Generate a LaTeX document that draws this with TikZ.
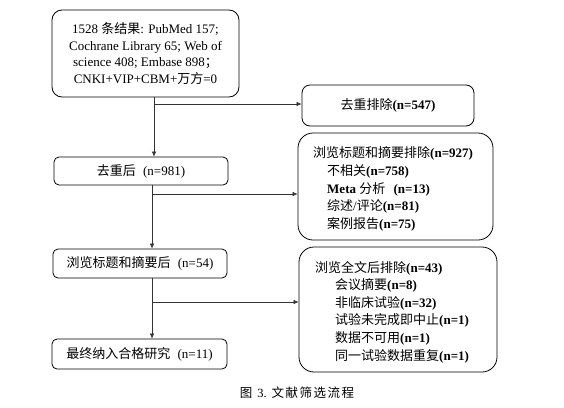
\documentclass[tikz,border=0pt]{standalone}
\usepackage{fontspec}
\setmainfont{Liberation Serif}
\newfontfamily\cjk{Noto Sans CJK SC}
\newcommand\zh[1]{{\cjk #1}}
\usetikzlibrary{arrows.meta}
\begin{document}
\begin{tikzpicture}[x=1pt,y=-1pt,
  font=\fontsize{13}{16.7}\selectfont,
  box/.style={draw, line width=0.8pt, rounded corners=#1, inner sep=0pt},
  box/.default=5pt,
  txt/.style={inner sep=0pt, align=left, anchor=west},
  arr/.style={draw=black!80, line width=0.6pt, -{Latex[length=5pt,width=4.5pt]}}]
\useasboundingbox (0,0) rectangle (564,407);

% left column
\node[box=10pt, minimum width=187pt, minimum height=87pt, align=center] (src) at (145.5,53.5)
  {1528 \zh{条结果}: PubMed 157;\\Cochrane Library 65; Web of\\science 408; Embase 898\zh{；}\\CNKI+VIP+CBM+\zh{万方}=0};
\node[box, minimum width=174pt, minimum height=28pt] (dedup) at (141,171) {\zh{去重后}\hspace{4pt} (n=981)};
\node[box, minimum width=174pt, minimum height=29pt] (screen) at (140,263.5) {\zh{浏览标题和摘要后}\hspace{4pt} (n=54)};
\node[box, minimum width=175pt, minimum height=30pt] (final) at (139.5,354) {\zh{最终纳入合格研究}\hspace{4pt} (n=11)};

% right column
\node[box=8pt, minimum width=172pt, minimum height=41pt] (ex1) at (388,105.5) {\zh{去重排除}\textbf{(n=547)}};
\node[box=15pt, minimum width=195pt, minimum height=107pt] (ex2) at (395.5,186.5) {};
\node[txt, font=\fontsize{13}{17.7}\selectfont] (ex2t) at (313,189)
  {\zh{浏览标题和摘要排除}\textbf{(n=927)}\\
   \hspace*{14pt}\zh{不相关}\textbf{(n=758)}\\
   \hspace*{14pt}\textbf{Meta} \zh{分析}\hspace{5pt} \textbf{(n=13)}\\
   \hspace*{14pt}\zh{综述}/\zh{评论}\textbf{(n=81)}\\
   \hspace*{14pt}\zh{案例报告}\textbf{(n=75)}};
\node[box=15pt, minimum width=198pt, minimum height=125pt] (ex3) at (398,309.5) {};
\node[txt, font=\fontsize{13}{17.6}\selectfont] (ex3t) at (315,312)
  {\zh{浏览全文后排除}\textbf{(n=43)}\\
   \hspace*{20pt}\zh{会议摘要}\textbf{(n=8)}\\
   \hspace*{20pt}\zh{非临床试验}\textbf{(n=32)}\\
   \hspace*{20pt}\zh{试验未完成即中止}\textbf{(n=1)}\\
   \hspace*{20pt}\zh{数据不可用}\textbf{(n=1)}\\
   \hspace*{20pt}\zh{同一试验数据重复}\textbf{(n=1)}};

% connectors
\coordinate (c1) at (154,0);
\coordinate (c2) at (152,0);
\coordinate (j1) at (154,104);
\coordinate (j2) at (152,194);
\coordinate (j3) at (152,302);
\draw[arr] (src.south -| c1) -- (dedup.north -| c1);
\draw[arr] (j1) -- (ex1.west |- j1);
\draw[arr] (dedup.south -| c2) -- (screen.north -| c2);
\draw[arr] (j2) -- (ex2.west |- j2);
\draw[arr] (screen.south -| c2) -- (final.north -| c2);
\draw[arr] (j3) -- (ex3.west |- j3);

% caption
\node[inner sep=0pt, font=\fontsize{12.5}{12.5}\selectfont] (cap) at (297,393)
  {\zh{图}\hspace{5pt}3.\hspace{5pt}\zh{文}\hspace{1.5pt}\zh{献}\hspace{1.5pt}\zh{筛}\hspace{1.5pt}\zh{选}\hspace{1.5pt}\zh{流}\hspace{1.5pt}\zh{程}};
\end{tikzpicture}
\end{document}
